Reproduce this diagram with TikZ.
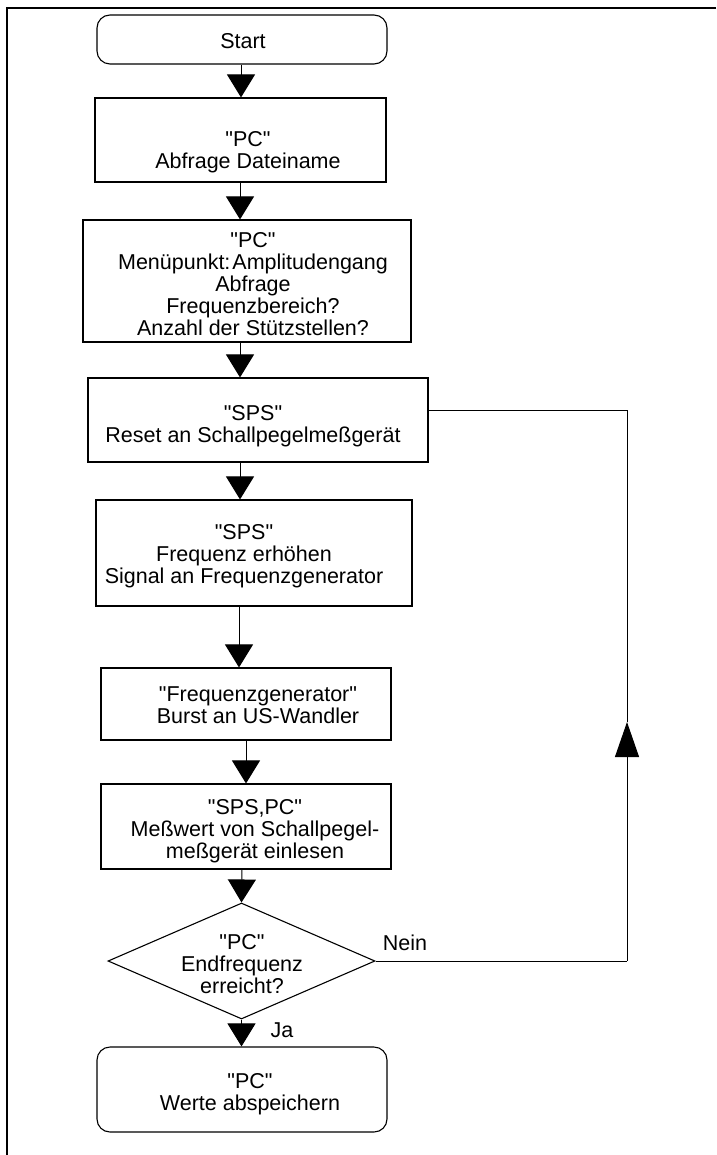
\documentclass[tikz,border=0pt]{standalone}
\usepackage{fontspec}
\setmainfont{Liberation Sans}
\usetikzlibrary{arrows.meta,shapes.geometric}

% line strut: 16pt above, 6pt below the baseline, 22pt per line
\newcommand\ls{\rule[-6pt]{0pt}{22pt}}
% straight double quote
\newcommand\dq{\textquotedbl}

\tikzset{
  box/.style={draw, line width=1.1pt, rectangle, inner sep=0pt},
  term/.style={box, rounded corners=13pt},
  decision/.style={draw, line width=1.1pt, diamond, inner sep=0pt},
  txt/.style={align=center, inner sep=0pt, font=\fontsize{21.5}{22}\selectfont},
  flow/.style={line width=1pt, -{Triangle[width=28pt,length=23pt]}},
  back/.style={line width=1pt},
  backup/.style={line width=1pt, -{Triangle[width=24pt,length=35pt]}},
  frameline/.style={line width=2.4pt}
}

\begin{document}
\begin{tikzpicture}[x=1pt,y=-1pt]
\useasboundingbox (0,0) rectangle (716,1155);

% page frame (top and left edges)
\draw[frameline] (716,8) -- (7,8) -- (7,1155);

% boxes
\node[term, minimum width=290pt, minimum height=49pt]  (start) at (242,39.5) {};
\node[box,  minimum width=291pt, minimum height=84pt]  (b2)    at (240.5,140) {};
\node[box,  minimum width=328pt, minimum height=122pt] (b3)    at (247,281) {};
\node[box,  minimum width=340pt, minimum height=84pt]  (b4)    at (258,420) {};
\node[box,  minimum width=316pt, minimum height=106pt] (b5)    at (254,553) {};
\node[box,  minimum width=290pt, minimum height=72pt]  (b6)    at (246,704) {};
\node[box,  minimum width=290pt, minimum height=85pt]  (b7)    at (246,826.5) {};
\node[decision, minimum width=267pt, minimum height=116pt] (dec) at (241.5,961) {};
\node[term, minimum width=290pt, minimum height=85pt]  (fin)   at (242,1089.5) {};

% texts
\node[txt] (tstart) at (243,44) {\ls Start};
\node[txt] (t2) at (248,153) {\ls\dq PC\dq\\\ls Abfrage Dateiname};
\node[txt] (t3) at (253,286.5) {\ls\dq PC\dq\\\ls Menüpunkt:\hspace{2pt}Amplitudengang\\\ls Abfrage\\\ls Frequenzbereich?\\\ls Anzahl der Stützstellen?};
\node[txt] (t4) at (253,426) {\ls\dq SPS\dq\\\ls Reset an Schallpegelmeßgerät};
\node[txt] (t5) at (244,556) {\ls\dq SPS\dq\\\ls Frequenz erhöhen\\\ls Signal an Frequenzgenerator};
\node[txt] (t6) at (258,707.5) {\ls\dq Frequenzgenerator\dq\\\ls Burst an US-Wandler};
\node[txt] (t7) at (255,831.5) {\ls\dq SPS,PC\dq\\\ls Meßwert von Schallpegel-\\\ls meßgerät einlesen};
\node[txt] (td) at (242,966) {\ls\dq PC\dq\\\ls Endfrequenz\\\ls erreicht?};
\node[txt] (tfin) at (250,1094) {\ls\dq PC\dq\\\ls Werte abspeichern};
\node[txt] (nein) at (405,945) {\ls Nein};
\node[txt] (ja) at (282,1032) {\ls Ja};

% arrow columns
\coordinate (c1) at (241,0);
\coordinate (c2) at (240,0);
\coordinate (c5) at (239,0);
\coordinate (c6) at (246,0);
\coordinate (c7) at (242,0);

% main flow
\draw[flow] (start.south -| c1) -- (b2.north -| c1);
\draw[flow] (b2.south -| c2) -- (b3.north -| c2);
\draw[flow] (b3.south -| c2) -- (b4.north -| c2);
\draw[flow] (b4.south -| c2) -- (b5.north -| c2);
\draw[flow] (b5.south -| c5) -- (b6.north -| c5);
\draw[flow] (b6.south -| c6) -- (b7.north -| c6);
\draw[flow] (b7.south -| c7) -- (dec.north);
\draw[flow] (dec.south) -- (fin.north -| dec.south);

% loop back on "Nein"
\coordinate (l1) at (627,961);
\coordinate (up) at (627,722);
\coordinate (l2) at (627,410);
\draw[back] (dec.east) -- (l1);
\draw[backup] (l1) -- (up);
\draw[back] (up) -- (l2) -- (b4.east |- l2);
\end{tikzpicture}
\end{document}
